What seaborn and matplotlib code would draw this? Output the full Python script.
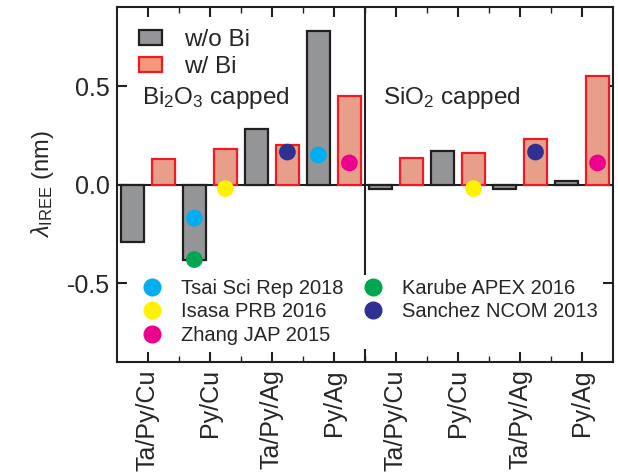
import pandas as pd
import matplotlib.pyplot as plt
import seaborn as sns
from matplotlib.patches import Patch
from matplotlib.lines import Line2D

# Bar data (lambda_IREE in nm)
structures = ["Ta/Py/Cu", "Py/Cu", "Ta/Py/Ag", "Py/Ag"]
cappings = ["Bi$_2$O$_3$ capped", "SiO$_2$ capped"]
series = ["w/o Bi", "w/ Bi"]

wo_bi_bi2o3 = [-0.29, -0.38, 0.28, 0.78]
w_bi_bi2o3 = [0.13, 0.18, 0.20, 0.45]
wo_bi_sio2 = [-0.02, 0.17, -0.02, 0.02]
w_bi_sio2 = [0.135, 0.16, 0.23, 0.55]

# Literature values
ref_names = ["Tsai Sci Rep 2018", "Tsai Sci Rep 2018", "Karube APEX 2016",
             "Isasa PRB 2016", "Isasa PRB 2016", "Sanchez NCOM 2013",
             "Sanchez NCOM 2013", "Zhang JAP 2015", "Zhang JAP 2015"]
ref_capping = [0, 0, 0, 0, 1, 0, 1, 0, 1]
ref_structure = ["Py/Cu", "Py/Ag", "Py/Cu", "Py/Cu", "Py/Cu",
                 "Ta/Py/Ag", "Ta/Py/Ag", "Py/Ag", "Py/Ag"]
ref_series = ["w/o Bi", "w/o Bi", "w/o Bi", "w/ Bi", "w/ Bi",
              "w/ Bi", "w/ Bi", "w/ Bi", "w/ Bi"]
ref_values = [-0.17, 0.15, -0.38, -0.02, -0.02, 0.165, 0.165, 0.11, 0.11]

ref_order = ["Tsai Sci Rep 2018", "Isasa PRB 2016", "Zhang JAP 2015",
             "Karube APEX 2016", "Sanchez NCOM 2013"]
ref_colors = {"Tsai Sci Rep 2018": "#00aeef", "Isasa PRB 2016": "#fff200",
              "Zhang JAP 2015": "#ec008c", "Karube APEX 2016": "#00a651",
              "Sanchez NCOM 2013": "#2e3192"}

bar_fill = {"w/o Bi": "#939598", "w/ Bi": "#f6977a"}
bar_edge = {"w/o Bi": "#231f20", "w/ Bi": "#ed1c24"}

# Build tidy tables
order = [f"{c}|{s}" for c in range(2) for s in structures]
rows = []
for c, (wo, w) in enumerate([(wo_bi_bi2o3, w_bi_bi2o3), (wo_bi_sio2, w_bi_sio2)]):
    for s, a, b in zip(structures, wo, w):
        rows.append({"sample": f"{c}|{s}", "series": "w/o Bi", "value": a})
        rows.append({"sample": f"{c}|{s}", "series": "w/ Bi", "value": b})
bars = pd.DataFrame(rows)

offset = {"w/o Bi": -0.25, "w/ Bi": 0.25}
refs = pd.DataFrame({"ref": ref_names, "value": ref_values})
refs["x"] = [order.index(f"{c}|{s}") + offset[h]
             for c, s, h in zip(ref_capping, ref_structure, ref_series)]

sns.set_style("ticks")
plt.rcParams["font.family"] = ["Liberation Sans", "DejaVu Sans"]
plt.rcParams["axes.unicode_minus"] = False
plt.rcParams["mathtext.fontset"] = "custom"
plt.rcParams["mathtext.rm"] = "Liberation Sans"
plt.rcParams["mathtext.it"] = "Liberation Sans:italic"

fig = plt.figure(figsize=(6.18, 4.74), dpi=100)
ax = fig.add_axes([0.189, 0.236, 0.803, 0.749])

sns.barplot(data=bars, x="sample", y="value", hue="series", order=order,
            hue_order=series, palette=bar_fill, width=1.0, gap=0.24,
            errorbar=None, legend=False, linewidth=1.6, ax=ax, zorder=2)
for cont, name in zip(ax.containers, series):
    for p in cont:
        p.set_edgecolor(bar_edge[name])

ax.axhline(0, color="#231f20", lw=1.5, zorder=1)
ax.axvline(3.5, color="#231f20", lw=1.5, zorder=1)

sns.scatterplot(data=refs, x="x", y="value", hue="ref", hue_order=ref_order,
                palette=ref_colors, s=145, edgecolor="none", legend=False,
                ax=ax, zorder=4)

ax.set_xlim(-0.5, 7.5)
ax.set_ylim(-0.9, 0.9)
ax.set_xticks(range(8))
ax.set_xticklabels(structures * 2, rotation=90, fontsize=18)
ax.set_xticks([i + 0.5 for i in range(7)], minor=True)
ax.set_yticks([-0.5, 0.0, 0.5])
ax.set_yticklabels(["-0.5", "0.0", "0.5"], fontsize=18)
ax.tick_params(direction="in", top=True, right=True, length=7, width=1.5,
               color="#231f20", pad=5)
ax.tick_params(which="minor", direction="in", top=True, length=4, width=1,
               color="#231f20")
ax.set_xlabel("")
ax.set_ylabel(r"$\lambda_{\mathrm{IREE}}$ (nm)", fontsize=17, labelpad=8)
for sp in ax.spines.values():
    sp.set_linewidth(1.5)
    sp.set_color("#231f20")

ax.text(0.05, 0.745, cappings[0], transform=ax.transAxes, fontsize=17.5,
        va="center")
ax.text(0.536, 0.745, cappings[1], transform=ax.transAxes, fontsize=17.5,
        va="center")

bar_handles = [Patch(facecolor=bar_fill[n], edgecolor=bar_edge[n], lw=1.6)
               for n in series]
leg1 = ax.legend(bar_handles, series, loc="upper left",
                 bbox_to_anchor=(0.0, 1.0), frameon=False, fontsize=17.5,
                 handlelength=0.95, handleheight=0.6, handletextpad=0.9,
                 labelspacing=0.2, borderaxespad=0.5)
ax.add_artist(leg1)

ref_handles = [Line2D([], [], marker="o", ls="none", color=ref_colors[r],
                      markersize=12) for r in ref_order]
leg2 = ax.legend(ref_handles, ref_order, loc="lower left", ncol=2,
                 bbox_to_anchor=(0.045, 0.036), fontsize=14.5, frameon=True,
                 framealpha=1, facecolor="white", edgecolor="none",
                 handlelength=0.9, handletextpad=1.0, columnspacing=1.0,
                 labelspacing=0.24, borderpad=0.2, borderaxespad=0)
leg2.set_zorder(5)

plt.savefig("out.png", dpi=100)
